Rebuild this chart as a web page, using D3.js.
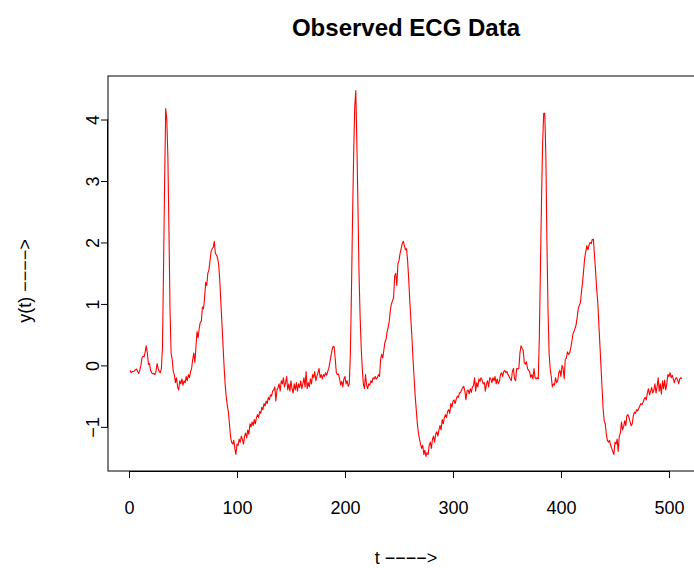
<!DOCTYPE html>
<html>
<head>
<meta charset="utf-8">
<script src="https://cdn.jsdelivr.net/npm/d3@7"></script>
<style>
  body { margin: 0; background: #fff; }
  svg { display: block; font-family: "Liberation Sans", Arial, sans-serif; }
</style>
</head>
<body>
<svg id="chart"></svg>
<script>
const width = 694;
const height = 568;

// observed ECG samples, t = 1..512
const ecg = [
  -0.08,-0.12,-0.10,-0.10,-0.09,-0.07,-0.06,-0.10,-0.13,-0.08,
  0.00,0.12,0.15,0.14,0.22,0.32,0.20,0.02,0.03,-0.08,
  -0.12,-0.14,-0.13,-0.15,-0.10,0.03,-0.05,-0.10,-0.12,-0.05,
  0.30,1.60,3.00,4.18,4.00,3.40,2.20,0.90,0.20,0.10,
  -0.10,-0.15,-0.28,-0.20,-0.35,-0.40,-0.25,-0.30,-0.22,-0.32,
  -0.25,-0.28,-0.18,-0.25,-0.15,-0.20,-0.10,-0.05,0.10,0.20,
  0.05,0.30,0.55,0.45,0.60,0.70,0.72,0.95,0.92,1.10,
  1.35,1.30,1.50,1.55,1.70,1.85,1.90,1.92,2.02,1.82,
  1.80,1.75,1.65,1.40,1.05,0.70,0.35,0.00,-0.30,-0.50,
  -0.65,-0.75,-0.95,-1.15,-1.25,-1.28,-1.22,-1.35,-1.45,-1.28,
  -1.30,-1.20,-1.25,-1.15,-1.20,-1.28,-1.15,-1.10,-1.18,-1.05,
  -1.12,-0.95,-1.00,-0.92,-0.98,-0.88,-0.95,-0.85,-0.80,-0.85,
  -0.75,-0.78,-0.68,-0.72,-0.62,-0.66,-0.58,-0.62,-0.52,-0.56,
  -0.48,-0.50,-0.42,-0.40,-0.35,-0.58,-0.40,-0.36,-0.30,-0.42,
  -0.25,-0.30,-0.20,-0.35,-0.28,-0.18,-0.40,-0.30,-0.42,-0.25,
  -0.38,-0.45,-0.30,-0.40,-0.28,-0.42,-0.30,-0.36,-0.25,-0.38,
  -0.30,-0.20,-0.35,-0.10,-0.38,-0.28,-0.35,-0.22,-0.30,-0.15,
  -0.20,-0.10,-0.25,-0.18,-0.12,-0.05,-0.20,-0.15,-0.22,-0.15,
  -0.18,-0.12,-0.16,-0.10,-0.05,0.05,0.15,0.25,0.31,0.30,
  0.10,-0.12,-0.15,-0.14,-0.22,-0.32,-0.26,-0.35,-0.22,-0.18,
  -0.30,-0.25,-0.34,-0.30,0.20,1.20,2.40,3.40,4.20,4.47,
  3.60,2.60,1.50,0.80,0.30,-0.05,-0.30,-0.38,-0.15,-0.32,
  -0.38,-0.30,-0.32,-0.25,-0.28,-0.20,-0.22,-0.18,-0.22,-0.20,
  -0.15,-0.18,0.10,0.18,0.12,0.25,0.38,0.42,0.55,0.62,
  0.72,0.90,1.00,1.05,1.10,1.45,1.50,1.30,1.65,1.70,
  1.82,1.90,1.98,2.02,1.95,1.88,1.90,1.70,1.40,1.05,
  0.75,0.45,0.10,-0.20,-0.50,-0.72,-0.95,-1.10,-1.20,-1.28,
  -1.35,-1.30,-1.45,-1.38,-1.48,-1.42,-1.45,-1.30,-1.25,-1.35,
  -1.20,-1.15,-1.25,-1.12,-1.08,-1.15,-1.05,-0.98,-1.05,-0.88,
  -0.95,-0.85,-0.80,-0.85,-0.75,-0.72,-0.78,-0.62,-0.68,-0.58,
  -0.56,-0.62,-0.55,-0.50,-0.52,-0.45,-0.44,-0.40,-0.36,-0.34,
  -0.42,-0.56,-0.42,-0.40,-0.46,-0.38,-0.44,-0.35,-0.33,-0.20,
  -0.42,-0.28,-0.35,-0.22,-0.26,-0.20,-0.24,-0.30,-0.28,-0.42,
  -0.30,-0.25,-0.35,-0.20,-0.22,-0.28,-0.20,-0.25,-0.18,-0.30,
  -0.22,-0.30,-0.26,-0.15,-0.12,-0.18,-0.10,-0.08,-0.12,-0.10,
  -0.15,-0.18,-0.22,-0.25,-0.10,-0.05,-0.22,-0.25,-0.05,-0.06,
  -0.05,0.20,0.32,0.28,0.25,0.05,0.02,0.06,-0.05,-0.08,
  -0.10,-0.20,-0.15,-0.22,-0.05,-0.20,-0.22,-0.20,-0.22,0.50,
  1.60,2.70,3.60,4.10,4.10,3.40,2.00,0.90,0.20,-0.05,
  -0.18,-0.35,-0.30,-0.32,-0.20,-0.28,-0.25,-0.12,-0.08,-0.18,
  0.00,-0.05,-0.22,0.10,0.12,0.22,0.18,0.20,0.28,0.38,
  0.50,0.55,0.60,0.66,0.78,0.92,0.98,1.02,1.20,1.35,
  1.55,1.75,1.85,1.95,1.88,1.96,2.00,1.98,2.05,2.05,
  1.80,1.55,1.25,1.05,0.70,0.35,0.00,-0.35,-0.70,-0.90,
  -0.95,-1.12,-1.22,-1.25,-1.22,-1.30,-1.35,-1.40,-1.45,-1.25,
  -1.28,-1.20,-1.40,-1.15,-1.10,-0.92,-1.05,-1.00,-0.90,-0.98,
  -0.82,-0.80,-0.85,-0.92,-0.98,-0.95,-0.82,-0.76,-0.78,-0.72,
  -0.74,-0.70,-0.66,-0.62,-0.64,-0.60,-0.55,-0.52,-0.56,-0.45,
  -0.38,-0.48,-0.42,-0.36,-0.45,-0.40,-0.30,-0.45,-0.35,-0.20,
  -0.42,-0.30,-0.47,-0.25,-0.38,-0.24,-0.40,-0.30,-0.15,-0.18,
  -0.12,-0.20,-0.16,-0.22,-0.28,-0.22,-0.20,-0.24,-0.30,-0.22,
  -0.20,-0.22
];
const xTicks = [0, 100, 200, 300, 400, 500];
const yTicks = [-1, 0, 1, 2, 3, 4];
const title = 'Observed ECG Data';
const xLabel = 't \u2212\u2212\u2212\u2212>';
const yLabel = 'y(t) \u2212\u2212\u2212\u2212>';

const points = ecg.map((v, i) => ({ t: i + 1, y: v }));

// plot region (R style, 4% padding on both axes)
const box = { left: 108, top: 76, right: 704, bottom: 471 };

const padX = (points.length - 1) * 0.04;
const x = d3.scaleLinear()
    .domain([1 - padX, points.length + padX])
    .range([box.left, box.right]);

const yMin = d3.min(ecg), yMax = d3.max(ecg);
const padY = (yMax - yMin) * 0.04;
const y = d3.scaleLinear()
    .domain([yMin - padY, yMax + padY])
    .range([box.bottom, box.top]);

const svg = d3.select('#chart')
    .attr('width', width)
    .attr('height', height);

svg.append('rect')
    .attr('x', box.left).attr('y', box.top)
    .attr('width', box.right - box.left).attr('height', box.bottom - box.top)
    .attr('fill', 'none').attr('stroke', '#000').attr('stroke-width', 1);

const line = d3.line().x(d => x(d.t)).y(d => y(d.y));

svg.append('path')
    .datum(points)
    .attr('d', line)
    .attr('fill', 'none')
    .attr('stroke', '#ff0000')
    .attr('stroke-width', 1.1)
    .attr('stroke-linejoin', 'round');

// x axis
const xAxis = svg.append('g')
    .attr('transform', `translate(0,${box.bottom})`)
    .call(d3.axisBottom(x).tickValues(xTicks).tickSize(7).tickPadding(23).tickSizeOuter(0));
xAxis.select('.domain').attr('d', `M${x(xTicks[0])},0.5H${x(xTicks[xTicks.length - 1])}`);

// y axis
const yAxis = svg.append('g')
    .attr('transform', `translate(${box.left},0)`)
    .call(d3.axisLeft(y).tickValues(yTicks).tickSize(7).tickPadding(0).tickSizeOuter(0)
        .tickFormat(d => d < 0 ? '\u2212' + Math.abs(d) : d));
yAxis.select('.domain').attr('d', `M-0.5,${y(yTicks[0])}V${y(yTicks[yTicks.length - 1])}`);
yAxis.selectAll('.tick text')
    .attr('x', null).attr('dy', null)
    .attr('text-anchor', 'middle')
    .attr('transform', 'translate(-9,0) rotate(-90)');

svg.selectAll('.tick text')
    .attr('font-size', 18)
    .attr('font-family', '"Liberation Sans", Arial, sans-serif')
    .attr('fill', '#000');
svg.selectAll('.tick line, .domain').attr('stroke', '#000');

svg.append('text')
    .attr('x', (box.left + box.right) / 2)
    .attr('y', 36)
    .attr('text-anchor', 'middle')
    .attr('font-size', 24)
    .attr('font-weight', 'bold')
    .text(title);

svg.append('text')
    .attr('x', (box.left + box.right) / 2)
    .attr('y', 564)
    .attr('text-anchor', 'middle')
    .attr('font-size', 18)
    .text(xLabel);

svg.append('text')
    .attr('transform', `translate(31,281) rotate(-90)`)
    .attr('text-anchor', 'middle')
    .attr('font-size', 18)
    .text(yLabel);
</script>
</body>
</html>
